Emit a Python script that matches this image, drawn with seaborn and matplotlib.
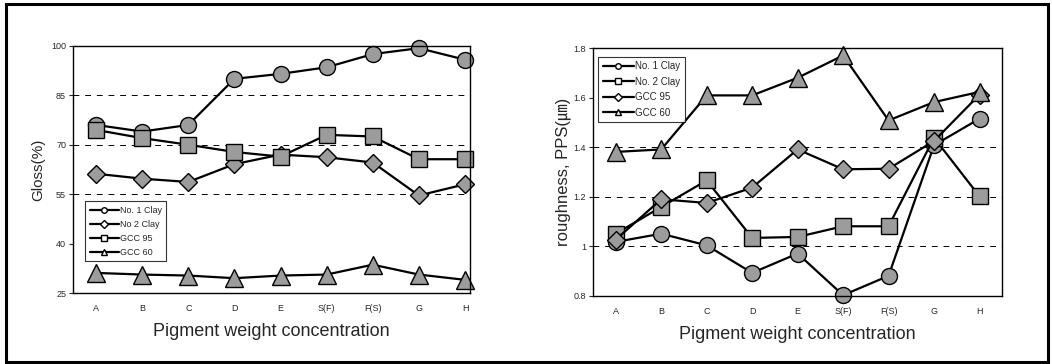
import numpy as np
import pandas as pd
import matplotlib
matplotlib.use('Agg')
import matplotlib.pyplot as plt
from matplotlib.lines import Line2D
from matplotlib.patches import Rectangle
import seaborn as sns

categories = ['A', 'B', 'C', 'D', 'E', 'S(F)', 'F(S)', 'G', 'H']

# gloss (%)
gloss_clay1 = [76.0, 74.0, 76.0, 90.0, 91.5, 93.5, 97.5, 99.3, 95.8]
gloss_clay2 = [61.2, 59.7, 58.7, 64.1, 67.0, 66.2, 64.6, 54.6, 58.0]
gloss_gcc95 = [74.5, 72.0, 70.0, 67.8, 66.4, 73.0, 72.5, 65.6, 65.6]
gloss_gcc60 = [31.1, 30.6, 30.3, 29.5, 30.3, 30.6, 33.6, 30.6, 29.0]

# roughness PPS (um)
rough_clay1 = [1.018, 1.051, 1.004, 0.893, 0.971, 0.803, 0.881, 1.408, 1.515]
rough_clay2 = [1.051, 1.159, 1.266, 1.034, 1.038, 1.081, 1.081, 1.438, 1.202]
rough_gcc95 = [1.027, 1.190, 1.175, 1.237, 1.391, 1.311, 1.313, 1.425, 1.612]
rough_gcc60 = [1.381, 1.391, 1.609, 1.609, 1.680, 1.770, 1.508, 1.582, 1.623]

labels_left = ['No. 1 Clay', 'No 2 Clay', 'GCC 95', 'GCC 60']
labels_right = ['No. 1 Clay', 'No. 2 Clay', 'GCC 95', 'GCC 60']

sns.set_theme(style='white')
plt.rcParams['font.family'] = ['Liberation Sans', 'DejaVu Sans', 'Noto Sans CJK KR']

fig = plt.figure(figsize=(10.52, 3.64), dpi=100)
ax1 = fig.add_axes([0.0694, 0.195, 0.377, 0.679])
ax2 = fig.add_axes([0.5637, 0.187, 0.389, 0.681])

face = '#9c9c9c'
x = np.arange(len(categories))


def draw(ax, series, markers, sizes):
    for vals, m, s in zip(series, markers, sizes):
        sns.lineplot(x=x, y=vals, ax=ax, color='black', lw=1.6, marker=m,
                     markersize=s, markerfacecolor=face, markeredgecolor='black',
                     markeredgewidth=1.0, clip_on=False)


draw(ax1, [gloss_clay1, gloss_clay2, gloss_gcc95, gloss_gcc60],
     ['o', 'D', 's', '^'], [11.5, 9.5, 12, 13.5])
draw(ax2, [rough_clay1, rough_clay2, rough_gcc95, rough_gcc60],
     ['o', 's', 'D', '^'], [11.5, 12, 9.5, 13.5])

ax1.set_ylim(25, 100)
ax1.set_yticks([25, 40, 55, 70, 85, 100])
ax1.set_xlim(-0.5, 8.1)
for g in [55, 70, 85]:
    ax1.axhline(g, color='black', lw=0.7, ls=(0, (6, 6)), zorder=0)

ax2.set_ylim(0.8, 1.8)
ax2.set_yticks([0.8, 1.0, 1.2, 1.4, 1.6, 1.8])
ax2.set_yticklabels(['0.8', '1', '1.2', '1.4', '1.6', '1.8'])
ax2.set_xlim(-0.5, 8.5)
for g in [1.0, 1.2, 1.4]:
    ax2.axhline(g, color='black', lw=0.7, ls=(0, (6, 6)), zorder=0)

for ax in (ax1, ax2):
    ax.set_xticks(x)
    ax.set_xticklabels(categories, fontsize=6.5)
    ax.tick_params(axis='y', labelsize=6.5, length=3, width=0.8, left=True, direction='out', pad=2)
    ax.tick_params(axis='x', length=0, pad=8)
    for sp in ax.spines.values():
        sp.set_color('black')
        sp.set_linewidth(1.0)
    ax.set_xlabel('Pigment weight concentration', fontsize=13, labelpad=7)

ax1.set_ylabel('Gloss(%)', fontsize=11, labelpad=4)
ax2.set_ylabel('roughness, PPS(㎛)', fontsize=12, labelpad=2)


def handles(markers):
    return [Line2D([0], [0], color='black', lw=1.6, marker=m, markersize=4,
                   markerfacecolor='white', markeredgecolor='black') for m in markers]


leg1 = ax1.legend(handles(['o', 'D', 's', '^']), labels_left, loc='lower left',
                  bbox_to_anchor=(0.02, 0.11), fontsize=6.5, frameon=True,
                  fancybox=False, edgecolor='black', handlelength=3.2,
                  handletextpad=0.1, labelspacing=0.55, borderpad=0.5)
leg1.get_frame().set_linewidth(0.8)
leg2 = ax2.legend(handles(['o', 's', 'D', '^']), labels_right, loc='upper left',
                  bbox_to_anchor=(0.0, 0.985), fontsize=7, frameon=True,
                  fancybox=False, edgecolor='black', handlelength=3.2,
                  handletextpad=0.1, labelspacing=0.55, borderpad=0.5)
leg2.get_frame().set_linewidth(0.8)

# outer frame round both panels
fig.add_artist(Rectangle((0.006, 0.006), 0.99, 0.983, transform=fig.transFigure,
                         fill=False, edgecolor='black', lw=2.2))

fig.savefig('out.png', dpi=100)
